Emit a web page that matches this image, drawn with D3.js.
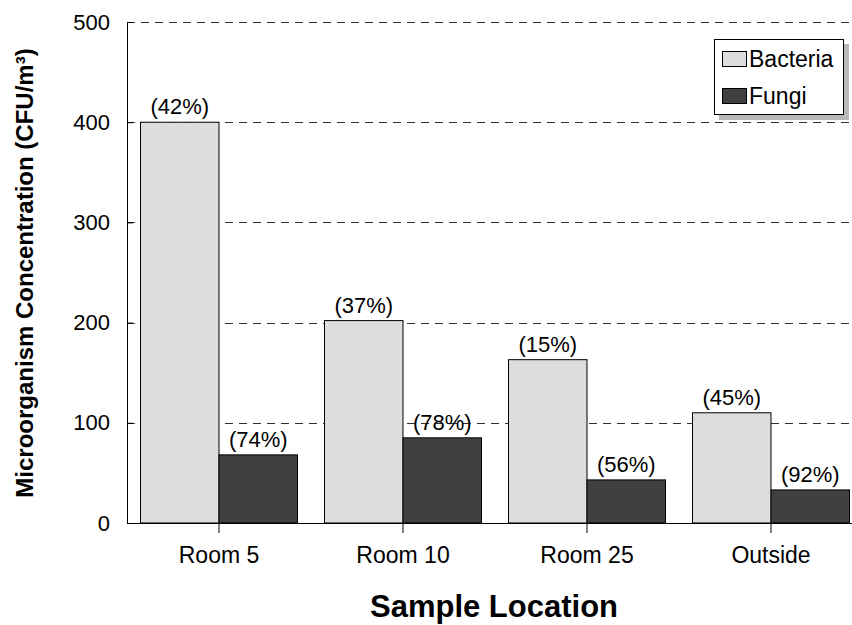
<!DOCTYPE html>
<html><head><meta charset="utf-8">
<script src="https://cdn.jsdelivr.net/npm/d3@7"></script>
<style>body{margin:0;background:#fff;} svg{display:block;font-family:"Liberation Sans",Arial,Helvetica,sans-serif;}</style>
</head><body>
<script>
const categories = ["Room 5", "Room 10", "Room 25", "Outside"];
const seriesNames = ["Bacteria", "Fungi"];
const bacteria = [400, 202, 163, 110];
const fungi = [68, 85, 43, 33];
const bacteriaPct = ["(42%)", "(37%)", "(15%)", "(45%)"];
const fungiPct = ["(74%)", "(78%)", "(56%)", "(92%)"];
const yTicks = [0, 100, 200, 300, 400, 500];
const colors = ["#dddddd", "#404040"];

(function () {
const W = 852, H = 625;
const mLeft = 127, mTop = 22, mBottom = 523, mRight = 863;
const FF = "Liberation Sans, Arial, sans-serif";
const svg = d3.select("body").append("svg").attr("width", W).attr("height", H);

const x0 = d3.scaleBand().domain(categories).range([mLeft, mRight]).paddingInner(0).paddingOuter(0);
const x1 = d3.scaleBand().domain(seriesNames).range([0, x0.bandwidth()]).paddingOuter(0.172).paddingInner(0);
const y = d3.scaleLinear().domain([0, 500]).range([mBottom, mTop]);

// grid
svg.append("g").selectAll("line").data(yTicks.filter(d => d > 0)).join("line")
  .attr("x1", mLeft).attr("x2", W).attr("y1", d => Math.round(y(d)) + 0.5).attr("y2", d => Math.round(y(d)) + 0.5)
  .attr("stroke", "#333").attr("stroke-width", 1).attr("stroke-dasharray", "8,6");

const data = categories.map((c, i) => ({c, vals: [
  {s: "Bacteria", v: bacteria[i], p: bacteriaPct[i]},
  {s: "Fungi", v: fungi[i], p: fungiPct[i]}]}));

const g = svg.append("g").selectAll("g").data(data).join("g")
  .attr("transform", d => `translate(${x0(d.c)},0)`);
g.selectAll("rect").data(d => d.vals).join("rect")
  .attr("x", d => x1(d.s)).attr("width", x1.bandwidth())
  .attr("y", d => y(d.v)).attr("height", d => y(0) - y(d.v))
  .attr("fill", (d, i) => colors[i]).attr("stroke", "#000").attr("stroke-width", 1);
g.selectAll("text").data(d => d.vals).join("text")
  .attr("x", d => x1(d.s) + x1.bandwidth() / 2).attr("y", d => y(d.v) - 8)
  .attr("text-anchor", "middle").attr("font-size", 22).attr("fill", "#000").text(d => d.p);

// axes
const yAxis = d3.axisLeft(y).tickValues(yTicks).tickSize(-6).tickPadding(17);
const ya = svg.append("g").attr("transform", `translate(${mLeft},0)`).call(yAxis);
ya.select(".domain").attr("stroke", "#000");
ya.selectAll("text").attr("font-size", 22).attr("fill", "#000").attr("font-family", FF);

const xAxis = d3.axisBottom(x0).tickSize(10).tickPadding(14).tickSizeOuter(0);
const xa = svg.append("g").attr("transform", `translate(0,${mBottom})`).call(xAxis);
xa.select(".domain").attr("stroke", "#000").attr("d", `M${mLeft},0.5H${W}`);
xa.selectAll("text").attr("font-size", 23).attr("fill", "#000").attr("font-family", FF);

// titles
svg.append("text").attr("x", 494).attr("y", 617).attr("text-anchor", "middle")
  .attr("font-size", 31).attr("font-weight", "bold").text("Sample Location");
svg.append("text").attr("transform", "translate(33,273) rotate(-90)").attr("text-anchor", "middle")
  .attr("font-size", 24).attr("font-weight", "bold").text("Microorganism Concentration (CFU/m³)");

// legend
const lg = svg.append("g");
lg.append("rect").attr("x", 719).attr("y", 44).attr("width", 130).attr("height", 76).attr("fill", "#b8b8b8");
lg.append("rect").attr("x", 714.5).attr("y", 39.5).attr("width", 129).attr("height", 75).attr("fill", "#fff").attr("stroke", "#000");
seriesNames.forEach((s, i) => {
  lg.append("rect").attr("x", 722.5).attr("y", 51.5 + i * 37).attr("width", 24).attr("height", 15)
    .attr("fill", colors[i]).attr("stroke", "#000");
  lg.append("text").attr("x", 749).attr("y", 67 + i * 37).attr("font-size", 23).text(s);
});
})();
</script>
</body></html>
